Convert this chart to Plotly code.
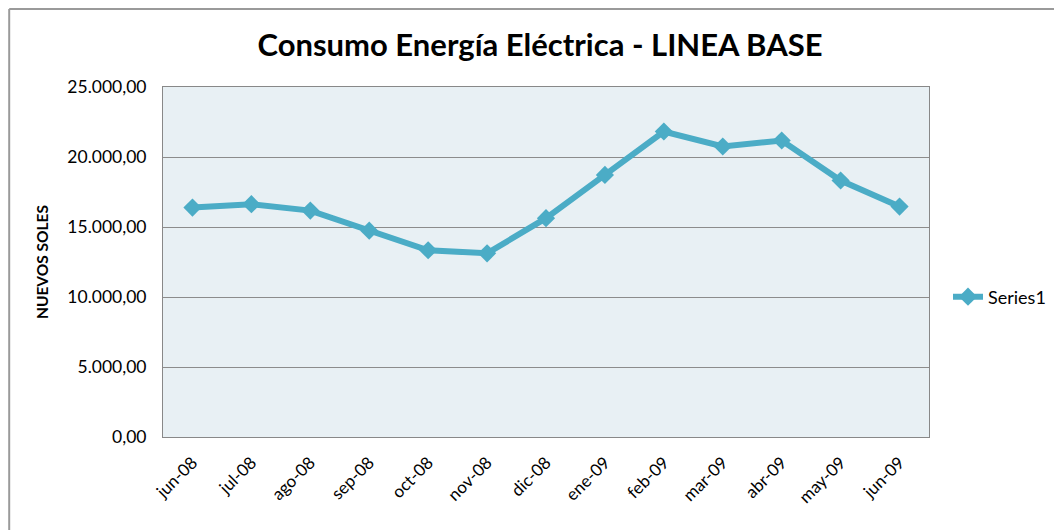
import plotly.graph_objects as go

categories = ["jun-08", "jul-08", "ago-08", "sep-08", "oct-08", "nov-08", "dic-08",
              "ene-09", "feb-09", "mar-09", "abr-09", "may-09", "jun-09"]
values = [16390, 16630, 16170, 14740, 13340, 13120, 15630,
          18720, 21820, 20750, 21180, 18320, 16460]
y_ticks = [0, 5000, 10000, 15000, 20000, 25000]

FONT = "Lato, Calibri, Carlito, sans-serif"
LINE = "#4BACC6"

# figure geometry (page body adds an 8px offset)
W, H = 1054, 522
ML, MR, MT, MB = 155, 132, 79, 93
PW, PH = W - ML - MR, H - MT - MB


def px(xf):
    return (xf - ML) / PW


def py(yf):
    return (H - MB - yf) / PH


fig = go.Figure()
fig.add_trace(go.Scatter(
    x=categories, y=values, name="Series1", mode="lines+markers",
    line=dict(color=LINE, width=6),
    marker=dict(symbol="diamond", size=14, color=LINE),
))

fig.update_layout(
    width=W, height=H,
    margin=dict(l=ML, r=MR, t=MT, b=MB),
    paper_bgcolor="white",
    plot_bgcolor="#E8F0F4",
    separators=",.",
    font=dict(family=FONT, size=17, color="black"),
    title=dict(text="<b>Consumo Energía Eléctrica - LINEA BASE</b>",
               x=532 / W, xanchor="center",
               y=1 - 37 / H, yanchor="middle",
               font=dict(family=FONT, size=31, color="black")),
    showlegend=True,
    legend=dict(x=px(940), xanchor="left", y=0.40, yanchor="middle",
                font=dict(family=FONT, size=18, color="black"),
                bgcolor="rgba(0,0,0,0)", itemwidth=30),
    xaxis=dict(
        type="category", tickangle=-45, showgrid=False,
        showline=True, linecolor="#888888", linewidth=1, mirror=True,
        ticks="", tickfont=dict(size=17), range=[-0.5, 12.5],
        ticklabelstandoff=8,
    ),
    yaxis=dict(
        range=[0, 25000], tickvals=y_ticks, tickformat=",.2f",
        showgrid=True, gridcolor="#8C8C8C", gridwidth=1,
        showline=True, linecolor="#888888", linewidth=1, mirror=True,
        ticks="", ticklen=0, tickfont=dict(size=17.5), ticklabelstandoff=12,
        title=dict(text="<b>NUEVOS SOLES</b>", standoff=14,
                   font=dict(family=FONT, size=15.5, color="black")),
        zeroline=False,
    ),
)

# outer chart border (top and left edges visible in the reference)
fig.add_shape(type="line", xref="paper", yref="paper",
              x0=px(1), x1=px(W), y0=py(1), y1=py(1),
              line=dict(color="#9A9A9A", width=2), layer="below")
fig.add_shape(type="line", xref="paper", yref="paper",
              x0=px(1), x1=px(1), y0=py(1), y1=py(H),
              line=dict(color="#9A9A9A", width=2), layer="below")

fig.write_html("out.html")
